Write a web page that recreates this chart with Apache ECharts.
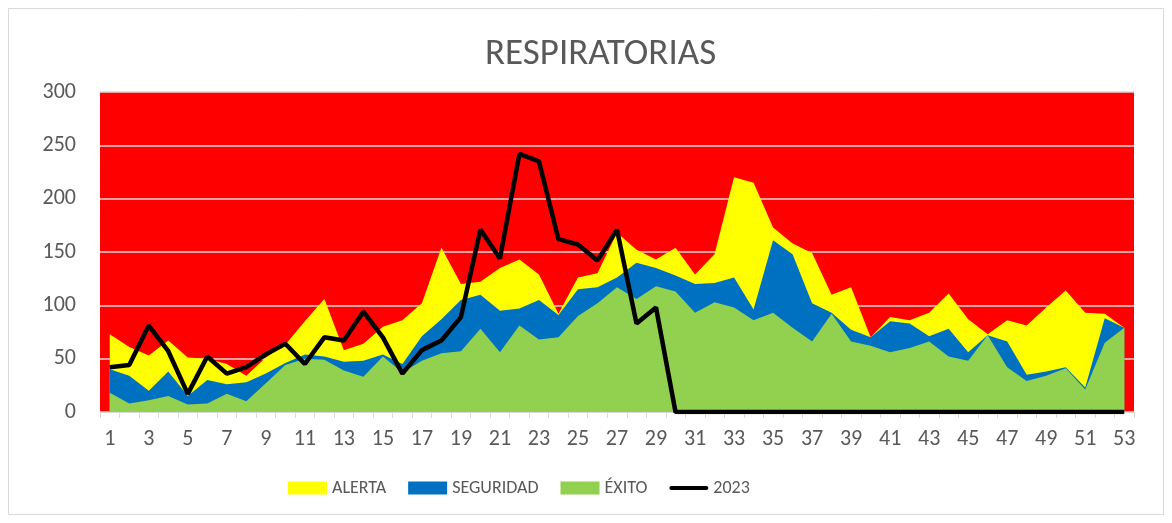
<!DOCTYPE html>
<html>
<head>
<meta charset="utf-8">
<script src="https://cdn.jsdelivr.net/npm/echarts@6/dist/echarts.min.js"></script>
<style>
html,body{margin:0;padding:0;background:#fff;}
#c{width:1172px;height:523px;}
</style>
</head>
<body>
<div id="c"></div>
<script>
var weeks = ['1','2','3','4','5','6','7','8','9','10','11','12','13','14','15','16','17','18','19','20','21','22','23','24','25','26','27','28','29','30','31','32','33','34','35','36','37','38','39','40','41','42','43','44','45','46','47','48','49','50','51','52','53'];
var alerta = [73,61,53,67,51,50,45,34,51,63,85,106,58,64,80,86,102,154,120,122,135,143,129,92,126,130,168,152,143,154,129,148,220,215,173,158,149,110,117,70,89,86,93,111,87,73,86,81,98,114,93,92,79];
var seguridad = [40,34,20,38,15,30,26,28,36,46,54,52,47,48,54,45,71,87,105,110,95,97,105,91,115,117,126,140,135,128,120,121,126,96,161,148,102,93,77,70,85,83,71,78,56,72,66,35,38,42,23,88,79];
var exito = [18,8,11,15,7,8,17,10,27,44,50,49,39,33,52,37,48,55,57,78,56,81,68,70,90,102,117,106,118,113,93,103,98,86,93,79,66,92,66,62,56,60,66,52,48,72,42,29,34,41,21,65,79];
var y2023 = [42,44,81,57,17,52,36,42,54,64,45,70,67,94,70,36,58,67,89,171,144,242,235,162,157,142,171,83,98,0,0,0,0,0,0,0,0,0,0,0,0,0,0,0,0,0,0,0,0,0,0,0,0];

var FONT = 'Carlito, Lato, sans-serif';
var LINE_ICON = 'path://M0,0 L0.01,0 M2,4.5 L37,4.5 A2,2 0 0 1 37,8.5 L2,8.5 A2,2 0 0 1 2,4.5 Z M39,13 L38.99,13';
var chart = echarts.init(document.getElementById('c'), null, {renderer:'canvas'});
function area(name, data, color){
  return {name:name, type:'line', data:data, symbol:'none', showSymbol:false,
    lineStyle:{width:0, color:color}, itemStyle:{color:color},
    areaStyle:{color:color, opacity:1}, silent:true, animation:false};
}
chart.setOption({
  animation:false,
  graphic:[{type:'rect', shape:{x:8.5,y:8.5,width:1155,height:506}, style:{fill:'none', stroke:'#D9D9D9', lineWidth:1}, z:-10}],
  title:{text:'RESPIRATORIAS', left:480, top:31, textStyle:{fontFamily:FONT, fontSize:37, fontWeight:'normal', color:'#595959'}},
  grid:{left:100, right:38, top:92, bottom:111, show:true, backgroundColor:'#FF0000', borderWidth:0},
  legend:{bottom:21, left:283, itemGap:22, itemWidth:39, itemHeight:13,
    textStyle:{fontFamily:FONT, fontSize:18, color:'#595959'},
    data:[{name:'ALERTA', icon:'rect'},{name:'SEGURIDAD', icon:'rect'},{name:'ÉXITO', icon:'rect'},{name:'2023', icon:LINE_ICON, itemStyle:{color:'#000000'}}]},
  xAxis:{type:'category', data:weeks, boundaryGap:true,
    axisLine:{lineStyle:{color:'#D9D9D9', width:1}},
    axisTick:{show:true, interval:0, length:6, lineStyle:{color:'#D9D9D9'}},
    axisLabel:{interval:1, fontFamily:FONT, fontSize:22, color:'#595959', margin:16}},
  yAxis:{type:'value', min:0, max:300, interval:50,
    axisLine:{show:false}, axisTick:{show:false},
    axisLabel:{fontFamily:FONT, fontSize:22, color:'#595959', margin:24},
    splitLine:{lineStyle:{color:'#D9D9D9', width:1.5}}},
  series:[
    area('ALERTA', alerta, '#FFFF00'),
    area('SEGURIDAD', seguridad, '#0070C0'),
    area('ÉXITO', exito, '#92D050'),
    {name:'2023', type:'line', data:y2023, symbol:'none', showSymbol:false,
      lineStyle:{width:4.5, color:'#000000'}, itemStyle:{color:'#000000'}, z:5}
  ]
});
</script>
</body>
</html>
